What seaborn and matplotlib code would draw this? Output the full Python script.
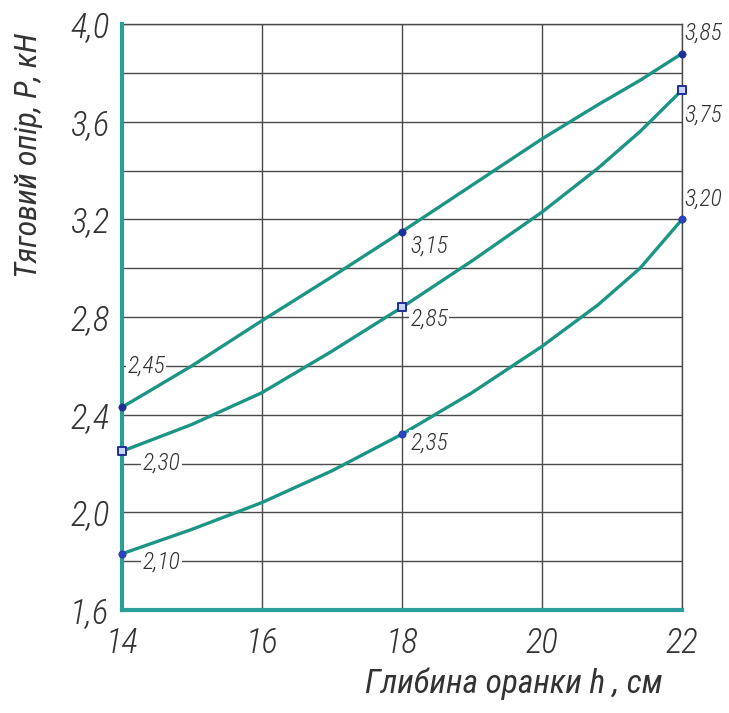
import numpy as np
import pandas as pd
import seaborn as sns
import matplotlib.pyplot as plt
from matplotlib.ticker import FuncFormatter, MultipleLocator

# curve points (h, cm -> P, kN)
h_curve = [14, 15, 16, 17, 18, 19, 20, 20.8, 21.4, 22]
p_top = [2.43, 2.60, 2.785, 2.965, 3.15, 3.34, 3.53, 3.67, 3.77, 3.88]
p_mid = [2.25, 2.36, 2.49, 2.66, 2.84, 3.03, 3.23, 3.41, 3.56, 3.73]
p_low = [1.83, 1.93, 2.04, 2.17, 2.32, 2.49, 2.68, 2.85, 3.00, 3.20]

# measured points and their printed labels
h_pts = [14, 18, 22]
labels_top = ["2,45", "3,15", "3,85"]
labels_mid = ["2,30", "2,85", "3,75"]
labels_low = ["2,10", "2,35", "3,20"]

x_ticks = [14, 16, 18, 20, 22]
y_ticks = [1.6, 2.0, 2.4, 2.8, 3.2, 3.6, 4.0]

x_title = "Глибина оранки h , см"
y_title = "Тяговий опір, Р, кН"

curves = pd.concat([
    pd.DataFrame({"h": h_curve, "P": p_top, "curve": "top"}),
    pd.DataFrame({"h": h_curve, "P": p_mid, "curve": "mid"}),
    pd.DataFrame({"h": h_curve, "P": p_low, "curve": "low"}),
])

sns.set_theme(style="white")
plt.rcParams["font.family"] = ["Roboto Condensed", "DejaVu Sans"]
plt.rcParams["font.stretch"] = "condensed"
plt.rcParams["font.style"] = "italic"
plt.rcParams["font.weight"] = "light"

teal = "#1c9585"
spine_teal = "#2a9e98"
grid_c = "#4a4a4a"
txt_c = "#333333"
dot_c = "#1f2f9a"

fig = plt.figure(figsize=(7.29, 7.13), dpi=100)
ax = fig.add_axes([0.167, 0.1445, 0.7685, 0.8215])

# grid first
ax.set_xlim(14, 22)
ax.set_ylim(1.6, 4.0)
ax.xaxis.set_major_locator(MultipleLocator(2))
ax.yaxis.set_major_locator(MultipleLocator(0.4))
ax.yaxis.set_minor_locator(MultipleLocator(0.2))
ax.grid(True, which="major", axis="x", color=grid_c, lw=1.0)
ax.grid(True, which="both", axis="y", color=grid_c, lw=1.0)
ax.set_axisbelow(True)

sns.lineplot(data=curves, x="h", y="P", hue="curve", sort=False,
             palette=[teal] * 3, lw=2.4, legend=False, ax=ax, zorder=3)

pts = pd.DataFrame({"h": h_pts, "top": [p_top[0], p_top[4], p_top[-1]],
                    "mid": [p_mid[0], p_mid[4], p_mid[-1]],
                    "low": [p_low[0], p_low[4], p_low[-1]]})
sns.scatterplot(data=pts, x="h", y="top", marker="o", s=28, color=dot_c,
                edgecolor=dot_c, ax=ax, zorder=5, clip_on=False)
sns.scatterplot(data=pts, x="h", y="mid", marker="s", s=28, color="#c8d4ff",
                edgecolor=dot_c, linewidth=1.4, ax=ax, zorder=5, clip_on=False)
sns.scatterplot(data=pts, x="h", y="low", marker="o", s=28, color="#2a44c0",
                edgecolor=dot_c, ax=ax, zorder=5, clip_on=False)

# point labels (offsets in points from each marker)
offs = {
    "top": [(4, 30), (6, -10), (2, 15)],
    "mid": [(15, -8.5), (6, -8.5), (2, -18)],
    "low": [(15, -6), (6, -6), (2, 15)],
}
for key, labs in (("top", labels_top), ("mid", labels_mid), ("low", labels_low)):
    for i, lab in enumerate(labs):
        ax.annotate(lab, (pts["h"][i], pts[key][i]), xytext=offs[key][i],
                    textcoords="offset points", ha="left", va="center",
                    fontsize=17, color=txt_c, zorder=6, annotation_clip=False,
                    bbox=dict(boxstyle="square,pad=0.05", fc="white", ec="none"))

for side in ("top", "right"):
    ax.spines[side].set_color(grid_c)
    ax.spines[side].set_linewidth(1.0)
for side in ("left", "bottom"):
    ax.spines[side].set_color(spine_teal)
    ax.spines[side].set_linewidth(3.0)
    ax.spines[side].set_zorder(4)

ax.set_xticks(x_ticks)
ax.set_yticks(y_ticks)
ax.yaxis.set_major_formatter(FuncFormatter(lambda v, _: f"{v:.1f}".replace(".", ",")))
ax.tick_params(axis="both", which="both", length=0, labelsize=25, labelcolor=txt_c)
ax.tick_params(axis="y", pad=9)
ax.tick_params(axis="x", pad=12)

ax.set_xlabel(x_title, fontsize=24, color=txt_c)
ax.xaxis.set_label_coords(0.70, -0.098)
ax.set_ylabel(y_title, fontsize=23, color=txt_c)
ax.yaxis.set_label_coords(-0.14, 0.776)

fig.savefig("out.png", dpi=100)
